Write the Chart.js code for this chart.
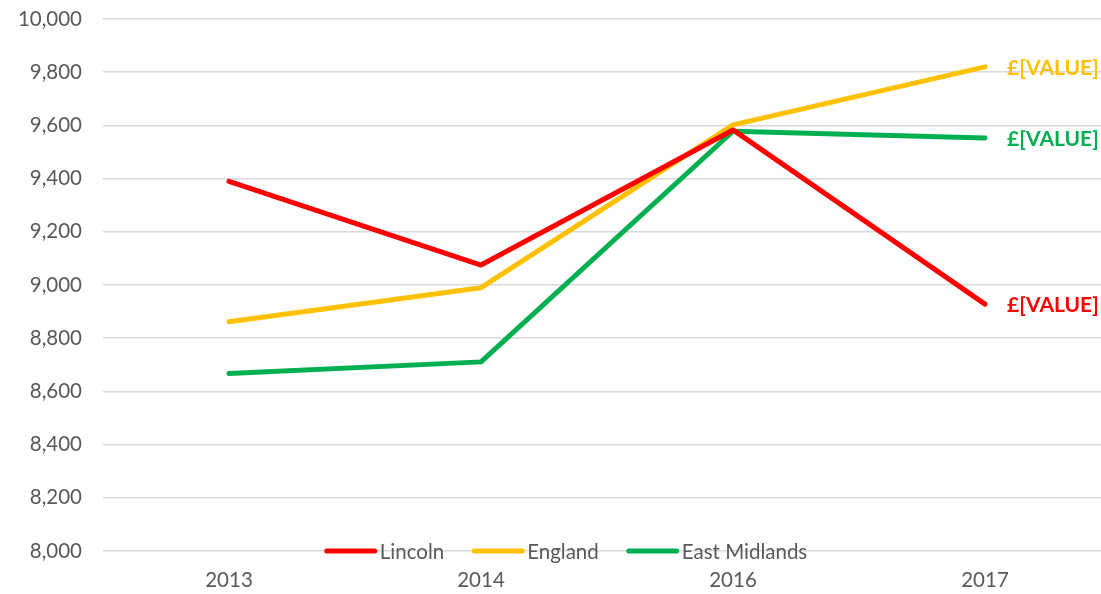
<!DOCTYPE html>
<html>
<head>
<meta charset="utf-8">
<script src="https://cdn.jsdelivr.net/npm/chart.js@4.4.0/dist/chart.umd.min.js"></script>
<style>
  html, body { margin: 0; padding: 0; background: #fff; overflow: hidden; }
  #wrap { width: 1111px; height: 594px; }
</style>
</head>
<body>
<div id="wrap"><canvas id="chart" width="1111" height="594"></canvas></div>
<script>
const years = ['2013', '2014', '2016', '2017'];
const lincoln = [9390, 9075, 9583, 8928];
const england = [8862, 8990, 9602, 9820];
const eastMidlands = [8667, 8711, 9578, 9553];
const seriesNames = ['Lincoln', 'England', 'East Midlands'];
const seriesColors = ['#FF0000', '#FFC000', '#00B050'];
const endLabel = '£[VALUE]';

const FONT = 'Lato, "Open Sans", sans-serif';

// end-of-line labels + legend sitting on the bottom gridline
const extras = {
  id: 'extras',
  afterDatasetsDraw(chart) {
    const ctx = chart.ctx;
    ctx.save();
    ctx.font = 'bold 21px ' + FONT;
    ctx.textBaseline = 'middle';
    ctx.textAlign = 'left';
    chart.data.datasets.forEach((ds, i) => {
      const meta = chart.getDatasetMeta(i);
      const pt = meta.data[meta.data.length - 1];
      ctx.fillStyle = ds.borderColor;
      ctx.fillText(endLabel, pt.x + 22, pt.y + 1);
    });

    // legend
    ctx.font = '20.5px ' + FONT;
    const lineW = 52, gapA = 3, gapB = 28;
    let total = 0;
    const widths = seriesNames.map(n => ctx.measureText(n).width);
    widths.forEach((w, i) => { total += lineW + gapA + w + (i < widths.length - 1 ? gapB : 0); });
    let x = 566 - total / 2;
    const y = chart.chartArea.bottom;
    ctx.lineCap = 'round';
    ctx.lineWidth = 5;
    seriesNames.forEach((n, i) => {
      ctx.strokeStyle = seriesColors[i];
      ctx.beginPath();
      ctx.moveTo(x + 2, y);
      ctx.lineTo(x + lineW - 2, y);
      ctx.stroke();
      x += lineW + gapA;
      ctx.fillStyle = '#595959';
      ctx.textBaseline = 'middle';
      ctx.fillText(n, x, y + 1);
      x += widths[i] + gapB;
    });
    ctx.restore();
  }
};

new Chart(document.getElementById('chart'), {
  type: 'line',
  data: {
    labels: years,
    datasets: [lincoln, england, eastMidlands].map((d, i) => ({
      label: seriesNames[i],
      data: d,
      borderColor: seriesColors[i],
      backgroundColor: seriesColors[i],
      borderWidth: 5,
      borderCapStyle: 'round',
      borderJoinStyle: 'round',
      pointRadius: 0,
      tension: 0,
      fill: false
    }))
  },
  options: {
    responsive: false,
    animation: false,
    layout: { padding: { top: 19, left: 0, right: 0, bottom: 0 } },
    plugins: {
      legend: { display: false },
      tooltip: { enabled: false }
    },
    scales: {
      x: {
        offset: true,
        grid: { display: false, drawTicks: false },
        border: { display: false },
        ticks: { color: '#595959', font: { family: FONT, size: 20.5 }, padding: 17 },
        afterFit: s => { s.height = 43; s.paddingLeft = 0; s.paddingRight = 0; }
      },
      y: {
        min: 8000,
        max: 10000,
        grid: { color: '#D9D9D9', lineWidth: 1.5, drawTicks: false },
        border: { display: false },
        ticks: {
          stepSize: 200,
          color: '#595959',
          font: { family: FONT, size: 20.5 },
          padding: 21,
          callback: v => v.toLocaleString('en-US')
        },
        afterFit: s => { s.width = 103; s.paddingTop = 0; s.paddingBottom = 0; }
      }
    }
  },
  plugins: [extras]
});
</script>
</body>
</html>
